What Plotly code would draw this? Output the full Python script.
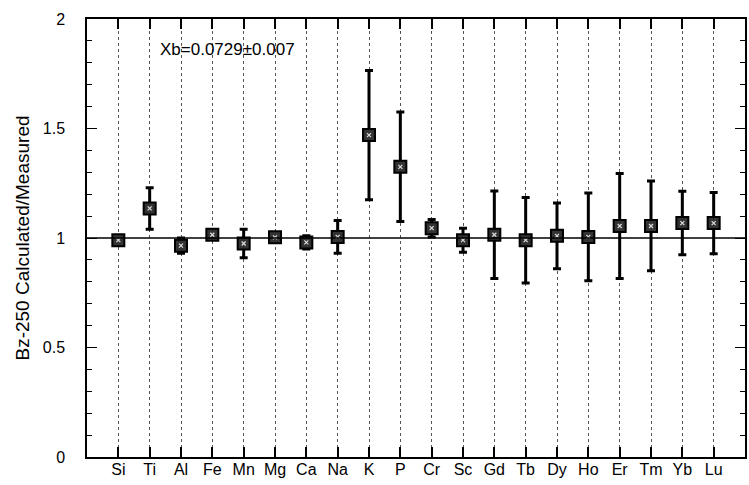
import plotly.graph_objects as go

elements = ["Si", "Ti", "Al", "Fe", "Mn", "Mg", "Ca", "Na", "K", "P",
            "Cr", "Sc", "Gd", "Tb", "Dy", "Ho", "Er", "Tm", "Yb", "Lu"]
ratio = [0.99, 1.135, 0.965, 1.015, 0.975, 1.003, 0.98, 1.005, 1.47, 1.325,
         1.045, 0.99, 1.015, 0.99, 1.01, 1.005, 1.055, 1.055, 1.068, 1.068]
err = [0.01, 0.095, 0.035, 0.012, 0.065, 0.012, 0.03, 0.075, 0.295, 0.25,
       0.04, 0.055, 0.2, 0.195, 0.15, 0.2, 0.24, 0.205, 0.145, 0.14]
ytick_vals = [0, 0.5, 1, 1.5, 2]
ytick_text = ["0", "0.5", "1", "1.5", "2"]
annotation_text = "Xb=0.0729±0.007"

xpos = list(range(len(elements)))

fig = go.Figure()
fig.add_trace(go.Scatter(
    x=xpos, y=ratio, mode="markers",
    error_y=dict(type="data", array=err, visible=True, color="black",
                 thickness=3, width=4),
    marker=dict(symbol="square", size=12, color="#333",
                line=dict(color="black", width=2)),
    showlegend=False,
))
fig.add_trace(go.Scatter(
    x=xpos, y=ratio, mode="markers",
    marker=dict(symbol="x-thin", size=4, color="white",
                line=dict(color="#ddd", width=1.2)),
    showlegend=False, hoverinfo="skip",
))
fig.add_hline(y=1, line=dict(color="black", width=1.5))

fig.add_annotation(x=1.25, y=1.863, text=annotation_text, showarrow=False,
                   xanchor="left", yanchor="middle",
                   font=dict(family="Liberation Sans", size=17, color="black"))

fig.update_layout(
    width=749, height=485,
    margin=dict(l=87, r=2, t=19, b=28),
    paper_bgcolor="white", plot_bgcolor="white",
    font=dict(family="Liberation Sans", color="black"),
)
fig.update_xaxes(
    range=[-1, 20], tickvals=xpos, ticktext=elements,
    showgrid=True, gridcolor="#555", griddash="dot", gridwidth=1,
    showline=True, linecolor="black", linewidth=1.5, mirror="ticks",
    ticks="inside", ticklen=10, tickcolor="black", tickwidth=1.5,
    tickfont=dict(size=16), zeroline=False, ticklabelstandoff=-3,
)
fig.update_yaxes(
    range=[0, 2], tickvals=ytick_vals, ticktext=ytick_text,
    showgrid=False, zeroline=False,
    showline=True, linecolor="black", linewidth=1.5, mirror="ticks",
    ticks="inside", ticklen=10, tickcolor="black", tickwidth=1.2,
    minor=dict(dtick=0.1, ticks="inside", ticklen=5, tickcolor="black", tickwidth=1),
    tickfont=dict(size=16), ticklabelstandoff=17,
    title=dict(text="Bz-250 Calculated/Measured", font=dict(size=19), standoff=8),
)

fig.write_html("out.html")
